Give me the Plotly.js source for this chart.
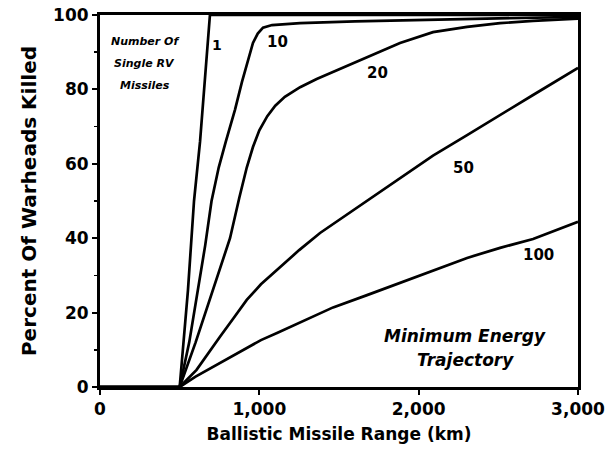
<!DOCTYPE html>
<html><head><meta charset="utf-8">
<script src="https://cdn.plot.ly/plotly-3.0.1.min.js"></script>
<style>html,body{margin:0;padding:0;background:#fff}</style>
</head><body><div id="chart" style="width:612px;height:449px"></div>
<script>
const c1x = [0, 500, 552, 590, 628, 660, 690, 3000];
const c1y = [0, 0, 26, 50, 66, 83, 100, 100];
const c10x = [0, 500, 560, 615, 660, 700, 745, 790, 847, 891, 930, 960, 990, 1023, 1080, 1256, 1600, 2000, 2500, 3000];
const c10y = [0, 0, 12, 26, 38, 50, 59, 66, 74.5, 82, 88, 92.5, 95, 96.6, 97.3, 97.8, 98.3, 98.7, 99.2, 99.5];
const c20x = [0, 500, 600, 710, 816, 875, 921, 960, 1000, 1050, 1100, 1160, 1256, 1360, 1463, 1676, 1883, 2090, 2304, 2511, 2718, 3000];
const c20y = [0, 0, 12, 26, 40, 51, 59, 64.5, 69, 72.8, 75.6, 78, 80.6, 82.8, 84.7, 88.7, 92.5, 95.4, 96.8, 97.8, 98.4, 99];
const c50x = [0, 500, 606, 680, 753, 840, 921, 1010, 1111, 1250, 1381, 1525, 1676, 1883, 2090, 2304, 2511, 2718, 3000];
const c50y = [0, 0, 4.6, 9.2, 13.5, 18.6, 23.4, 27.6, 31.5, 36.8, 41.4, 45.6, 50, 56, 62.2, 67.7, 73, 78.5, 85.8];
const c100x = [0, 500, 600, 709, 821, 921, 1010, 1111, 1256, 1381, 1463, 1676, 1883, 2090, 2304, 2511, 2718, 3000];
const c100y = [0, 0, 2.8, 5.4, 8.2, 10.5, 12.6, 14.5, 17.4, 19.9, 21.4, 24.7, 28, 31.4, 34.7, 37.4, 39.8, 44.4];
const xTickVals = [0, 1000, 2000, 3000];
const xTickText = ['0', '1,000', '2,000', '3,000'];
const yTickVals = [0, 20, 40, 60, 80, 100];
const seriesNames = ['1', '10', '20', '50', '100'];

const F = 'DejaVu Sans, Liberation Sans, Arial, sans-serif';
const xs = [c1x, c10x, c20x, c50x, c100x];
const ys = [c1y, c10y, c20y, c50y, c100y];
const traces = xs.map((x, i) => ({
  x: x, y: ys[i], name: seriesNames[i], type: 'scatter', mode: 'lines',
  line: {color: '#000', width: 2.7, shape: 'linear'},
  cliponaxis: true, hoverinfo: 'skip'
}));

const ann = (x, y, text, size, italic) => ({
  x: x, y: y, xref: 'x', yref: 'y', text: text, showarrow: false,
  xanchor: 'center', yanchor: 'middle',
  font: {family: F, size: size, color: '#000', weight: 'bold', style: italic ? 'italic' : 'normal'}
});

const layout = {
  width: 612, height: 449,
  margin: {l: 100, r: 34, t: 15, b: 62},
  paper_bgcolor: '#fff', plot_bgcolor: '#fff',
  showlegend: false,
  font: {family: F, color: '#000'},
  xaxis: {
    range: [0, 3000], tickvals: xTickVals, ticktext: xTickText,
    showgrid: false, zeroline: false, showline: true, mirror: true,
    linecolor: '#000', linewidth: 3,
    ticks: 'outside', ticklen: 5, tickwidth: 2, tickcolor: '#000',
    tickfont: {family: F, size: 17, weight: 'bold', color: '#000'},
    title: {text: 'Ballistic Missile Range (km)', standoff: 10,
      font: {family: F, size: 17, weight: 'bold', color: '#000'}}
  },
  yaxis: {
    range: [0, 100], tickvals: yTickVals,
    showgrid: false, zeroline: false, showline: true, mirror: true,
    linecolor: '#000', linewidth: 3,
    ticks: 'outside', ticklen: 5, tickwidth: 2, tickcolor: '#000',
    minor: {dtick: 10, ticks: 'outside', ticklen: 3, tickwidth: 1.5, tickcolor: '#000'},
    tickfont: {family: F, size: 17, weight: 'bold', color: '#000'},
    title: {text: 'Percent Of Warheads Killed', standoff: 12,
      font: {family: F, size: 20, weight: 'bold', color: '#000'}}
  },
  annotations: [
    ann(282, 93, 'Number Of', 11, true),
    ann(282, 87, 'Single RV', 11, true),
    ann(282, 81, 'Missiles', 11, true),
    ann(734, 92, '1', 14, false),
    ann(1111, 92.7, '10', 15, false),
    ann(1739, 84.4, '20', 15, false),
    ann(2279, 58.9, '50', 15, false),
    ann(2750, 35.5, '100', 15, false),
    ann(2291, 13.7, 'Minimum Energy', 17, true),
    ann(2291, 7.3, 'Trajectory', 17, true)
  ]
};

Plotly.newPlot('chart', traces, layout, {staticPlot: true, displayModeBar: false});
</script></body></html>
